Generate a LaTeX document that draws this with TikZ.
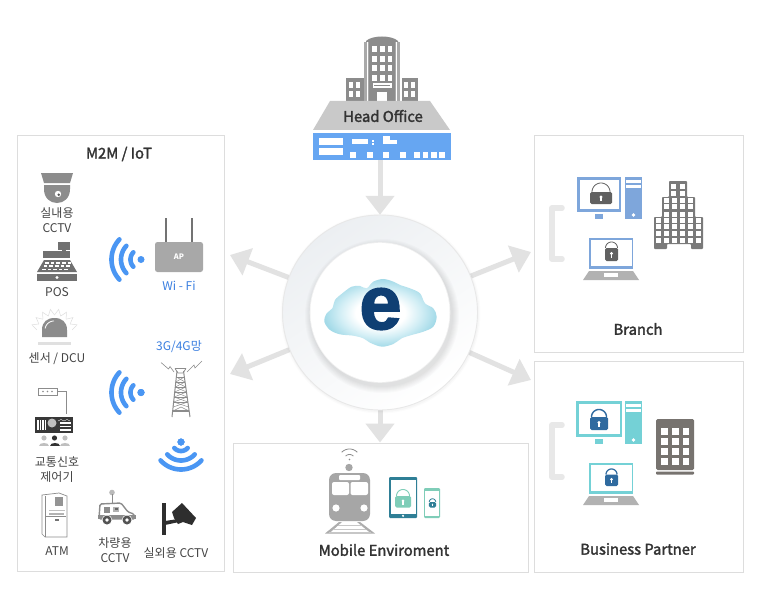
\documentclass[tikz,border=0pt]{standalone}
\usepackage{fontspec}
\setmainfont{Noto Sans CJK KR}
\newfontfamily\ttlfont[FakeBold=2]{Noto Sans CJK KR}
\newfontfamily\efont[BoldFeatures={FakeBold=2}]{Liberation Sans}
\usetikzlibrary{arrows.meta,calc}
\definecolor{panelb}{HTML}{DDDDDD}
\definecolor{arrowg}{HTML}{E2E2E2}
\definecolor{wifiblue}{HTML}{4A96F3}
\definecolor{txtblue}{HTML}{3B7FE0}
\definecolor{hoblue}{HTML}{66A6F2}
\definecolor{txt}{HTML}{333333}
\definecolor{lab}{HTML}{444444}
\definecolor{ico}{HTML}{8C8C8C}
\definecolor{bluem}{HTML}{7EA6DB}
\definecolor{cyanm}{HTML}{74D1D6}
\definecolor{navy}{HTML}{2F6A9F}
\definecolor{teal}{HTML}{2F7F96}
\definecolor{mint}{HTML}{7FCDB8}
\definecolor{bldg}{HTML}{7A7A7A}
\definecolor{bldgb}{HTML}{77736F}
\definecolor{cloudA}{HTML}{D2EEF5}
\definecolor{cloudB}{HTML}{A3DAE8}
\definecolor{ringt}{HTML}{ECEFF2}
\definecolor{edark}{HTML}{0F3F73}
\pgfdeclareradialshading{cloudsh}{\pgfpointorigin}{color(0bp)=(white); color(11bp)=(white); color(18bp)=(cloudA); color(25bp)=(cloudB); color(50bp)=(cloudB)}
\tikzset{
  panel/.style={draw=panelb,line width=1pt,fill=white,inner sep=0pt,rectangle},
  flow/.style={draw=arrowg,line width=5pt,-{Triangle[length=19pt,width=28pt]}},
  title/.style={font=\ttlfont\fontsize{14.8}{17}\selectfont,text=txt,inner sep=0pt},
  label/.style={font=\fontsize{12}{14}\selectfont,text=lab,inner sep=0pt},
  bluelabel/.style={font=\fontsize{12}{14}\selectfont,text=txtblue,inner sep=0pt},
  wifi/.style={draw=wifiblue,line width=4.6pt,line cap=round},
  tw/.style={draw=ico,line width=.7pt},
  hubring/.style={circle,inner sep=0pt,minimum size=195pt},
  hubcore/.style={circle,inner sep=0pt,minimum size=139pt,fill=white}
}
% arc centred at cx,cy in picture coordinates (y down)
\newcommand{\parc}[6][]{\draw[#1] plot[domain=#5:#6,samples=24] ({#2+#3*cos(\x)},{#4+#3*sin(\x)});}
% lock: cx, body top, half width, body height, shackle radius, colour, shackle width
\newcommand{\padlock}[7]{%
  \fill[#6,rounded corners=1.5pt] (#1-#3,#2) rectangle (#1+#3,#2+#4);
  \parc[draw=#6,line width=#7]{#1}{#5}{#2}{180}{360}
  \fill[white] (#1,#2+#4*.42) circle[radius=#4*.13];
  \fill[white] (#1-#4*.05,#2+#4*.42) rectangle (#1+#4*.05,#2+#4*.75);
}
% desktop: x0,y0,x1,y1 monitor; tower x0,x1,y1; colour
\newcommand{\desktop}[8]{%
  \fill[#8] (#1,#2) rectangle (#3,#4);
  \fill[white] (#1+2.5,#2+2.5) rectangle (#3-2.5,#4-3);
  \fill[#8] ({(#1+#3)/2-4},#4+2) rectangle ({(#1+#3)/2+4},#7);
  \fill[#8] (#5,#2) rectangle (#6,#7);
  \fill[white] (#5+1,#2+3) rectangle (#6-1,#2+6);
  \fill[white] (#5+1,#2+7.5) rectangle (#6-1,#2+11);
  \fill[white] ({(#5+#6)/2},#7-4) circle[radius=1.9];
}
% laptop: x0,y0,x1,y1, colour
\newcommand{\laptop}[5]{%
  \fill[#5] (#1,#2) rectangle (#3,#4);
  \fill[white] (#1+1.5,#2+1.5) rectangle (#3-1.5,#4-3);
  \fill[black!30] (#1,#4+2) -- (#3,#4+2) -- (#3+6,#4+11) -- (#1-6,#4+11) -- cycle;
  \fill[white] ({(#1+#3)/2-7},#4+4) rectangle ({(#1+#3)/2+7},#4+8);
}
\newcommand{\bracket}[2]{\draw[draw=black!9,line width=5.5pt,line cap=round,line join=round] (562,#1) -- (552,#1) -- (552,#2) -- (562,#2);}
\begin{document}
\begin{tikzpicture}[x=1pt,y=-1pt]
\useasboundingbox (0,0) rectangle (764,594);
\fill[white] (0,0) rectangle (764,594);

% panels
\node[panel,minimum width=207pt,minimum height=435pt] (m2m) at (120.5,353.5) {};
\node[panel,minimum width=209pt,minimum height=216pt] (branch) at (638.5,244) {};
\node[panel,minimum width=209pt,minimum height=211pt] (partner) at (638.5,466.5) {};
\node[panel,minimum width=295pt,minimum height=129pt] (mobile) at (380.5,507.5) {};

% head office
\fill[ico] (366,41) .. controls (372,35) and (392,35) .. (398,41) -- (398,42) -- (366,42) -- cycle;
\fill[ico!75] (364,42) rectangle (400,102);
\fill[white] (367,42) rectangle (368,101);
\fill[white] (396,42) rectangle (397,101);
\fill[ico] (369,42) rectangle (395,101);
\foreach \yy in {46,56,65.5,75}\foreach \xx in {372,380,387.5}\fill[white] (\xx,\yy) rectangle +(4.6,5.6);
\fill[white] (372.5,83) rectangle (391.5,88);
\fill[ico] (374,85) rectangle (390,86);
\fill[white] (377,92) rectangle (387,102);
\fill[ico] (346,78) rectangle (364,102);
\fill[ico] (402,78) rectangle (418,102);
\foreach \yy in {82,91}\foreach \xx in {349,356}\fill[white] (\xx,\yy) rectangle +(4,6);
\foreach \yy in {82,91}\foreach \xx in {404,411}\fill[white] (\xx,\yy) rectangle +(4,6);
\fill[black!21] (330,101) -- (430,101) -- (450,130) -- (313,130) -- cycle;
\node[title] (hotext) at (383,116) {Head Office};
\node[rectangle,fill=hoblue,inner sep=0pt,minimum width=138pt,minimum height=27pt] (ho) at (382,146.5) {};
\fill[white] (319,138) rectangle (343,145);
\fill[white] (319,148) rectangle (343,155);
\fill[white] (352,139) rectangle (368,144);
\fill[white] (372,140) rectangle (374,142);\fill[white] (372,143) rectangle (374,145);
\fill[white] (383,136) rectangle (390,144);\fill[white] (390,140) rectangle (397,144);
\foreach \xx in {350,367,383,400,414,422.5,431,439}\fill[white] (\xx,152) rectangle +(5.5,5.5);

% connectors
\node[hubring] (hub) at (380,312.5) {};
\coordinate (tl) at (230,255);
\coordinate (tr) at (531,252);
\coordinate (bl) at (230,374);
\coordinate (br) at (531,380);
\draw[flow] (hub.north |- ho.south) -- (hub.north);
\draw[flow] (hub.south) -- (hub.south |- mobile.north);
\draw[flow] (hub) -- (tl);
\draw[flow] (hub) -- (tr);
\draw[flow] (hub) -- (bl);
\draw[flow] (hub) -- (br);

% hub
\foreach \rr in {100,99,98.5}\fill[black,opacity=.012] (380.5,313.5) circle[radius=\rr];
\node[hubring,draw=black!9,line width=.9pt,top color=ringt,bottom color=white,shading angle=35] (hubr) at (hub) {};
\foreach \rr in {77,76,75,74,73,72,71}\fill[black,opacity=.016] (382,316) circle[radius=\rr];
\fill[black!5] (380,312.5) circle[radius=70.3];
\node[hubcore] (hubin) at (hub) {};

% cloud
\begin{scope}[x=.33333pt,y=-.33333pt,shift={(225pt,-200pt)}]
\shade[shading=cloudsh] plot[smooth cycle,tension=.55] coordinates {(298,365)(305,340)(322,325)(330,300)(352,280)(380,260)(405,258)(425,265)(445,245)(475,237)(505,245)(525,255)(555,265)(585,280)(600,310)(625,325)(635,350)(625,380)(595,395)(560,405)(530,415)(505,432)(470,440)(435,428)(415,415)(385,407)(345,403)(315,390)};
\end{scope}
\node[inner sep=0pt,font=\efont\bfseries\fontsize{76}{76}\selectfont,text=edark] (e) at (380.5,309) {e};

% M2M
\node[title] (m2mt) at (119,154) {M2M / IoT};
% dome camera
\fill[ico] (41,173) -- (73,173) -- (70,183) -- (44,183) -- cycle;
\fill[ico] (44,185) -- (70,185) -- (70,189) .. controls (70,198) and (64,203) .. (57,203) .. controls (50,203) and (44,198) .. (44,189) -- cycle;
\fill[white] (58,194) circle[radius=3.2];
\fill[ico!60!black] (58.7,194.7) circle[radius=1.4];
\node[label] (l1) at (57,213) {실내용};
\node[label] (l2) at (57,228) {CCTV};
% POS
\fill[ico!80!black] (58,242) rectangle (70,250);
\fill[ico!80!black] (62,250) rectangle (66,252);
\fill[ico!80!black] (43,251) rectangle (70,258);
\fill[ico!80!black] (44,260) -- (70,260) -- (77,272) -- (37,272) -- cycle;
\foreach \yy in {262,265,268.5}\foreach \xx in {0,1,2,3,4}\fill[white] ({57-12+\xx*5.6-(\yy-262)*.5+.2},\yy) rectangle +(3.6,1.6);
\fill[ico!80!black] (37,274) rectangle (77,281);
\fill[white] (57,277.5) circle[radius=1.7];
\node[label] (l3) at (57,292) {POS};
% sensor
\foreach \a in {190,210,...,330}
  \draw[black!13,line width=.5pt] ({54.5+18*cos(\a)},{333+18*sin(\a)}) -- ({54.5+24*cos(\a+10)},{333+24*sin(\a+10)}) -- ({54.5+18*cos(\a+20)},{333+18*sin(\a+20)});
\fill[ico] (42,337) -- (42,330) .. controls (42,322) and (47,318) .. (54.5,318) .. controls (62,318) and (67,322) .. (67,330) -- (67,337) -- cycle;
\fill[black!12] (38,342) rectangle (71,345);
\parc[draw=white,line width=.8pt]{54}{9}{330}{190}{270}
\node[label] (l4) at (57,359) {센서 / DCU};
% traffic
\draw[ico,fill=white,line width=.8pt] (38.5,388) rectangle (57,395);
\foreach \xx in {43,47.5,52}\fill[ico] (\xx,391.5) circle[radius=.8];
\draw[ico,line width=.8pt] (57,391.5) -- (66,391.5) -- (66,414);
\fill[black!78] (35,417) rectangle (73,433);
\foreach \xx in {37,39.5,42,44.5}\fill[white] (\xx,419.5) rectangle +(1.5,10);
\fill[black!25] (52,423) circle[radius=4.5];
\foreach \yy in {422,425.5,429}\fill[white] (60,\yy) rectangle (71,\yy+1.5);
\draw[white,line width=.4pt] (58,421) -- (61,419.5) -- (64,421) -- (67,419.5) -- (70,421);
\foreach \xx/\cc in {44/black!25,54.5/black!80,65/black!25}{
  \fill[\cc] (\xx,438) circle[radius=2.6];
  \fill[\cc] (\xx-5,446) .. controls (\xx-5,442) and (\xx+5,442) .. (\xx+5,446) -- cycle;
}
\node[label] (l5) at (57,462) {교통신호};
\node[label] (l6) at (57,477) {제어기};
% ATM
\draw[black!45,fill=white,line width=.7pt] (42,495) -- (59,493) -- (67,496) -- (67,537) -- (45,537) -- (42,534) -- cycle;
\draw[black!45,line width=.6pt] (45,496) -- (45,537);
\fill[black!42] (55,497) -- (63,497) -- (63,506) -- (55,506) -- cycle;
\fill[black!25] (49,510) rectangle (65,511);
\fill[black!30] (49,513) rectangle (64,515);
\draw[black!45,line width=.6pt] (46,516) -- (66,516);
\fill[black!55] (55,519) rectangle (59,521);
\node[label] (l7) at (57,551) {ATM};
% car
\fill[ico!60] (112,492.5) circle[radius=2.8];
\draw[ico,line width=.9pt] (112,494) -- (112,504);
\draw[ico,fill=white,line width=1.4pt,rounded corners=1.5pt] (99,519) -- (100,504) -- (121,503) -- (128,512) -- (134,514) -- (135,519) -- cycle;
\fill[ico] (98,515) rectangle (136,519);
\fill[ico] (104,507) rectangle (110,513);
\fill[black!30] (113,507) rectangle (119,512);
\fill[black!60] (115,508) rectangle (118,510);
\fill[white] (107,520) circle[radius=5.2];
\fill[ico!60!black] (107,520) circle[radius=4.5];
\fill[white] (107,520) circle[radius=1.8];
\fill[white] (127,520) circle[radius=5.2];
\fill[ico!60!black] (127,520) circle[radius=4.5];
\fill[white] (127,520) circle[radius=1.8];
\node[label] (l8) at (115,543) {차량용};
\node[label] (l9) at (115,558) {CCTV};
% outdoor camera
\fill[black!82] (162,503) rectangle (165.5,535);
\fill[black!82] (165,521) -- (178,519) -- (179,522) -- (165,525) -- cycle;
\fill[black!82] (172,512) -- (182,503) -- (196,518) -- (192,525) -- (183,522) -- (178,524) -- (174,518) -- cycle;
\node[label] (l10) at (176,553) {실외용 CCTV};
% wifi symbols
\fill[wifiblue] (141,259.5) circle[radius=3.5];
\foreach \rr in {10.5,20,29.5}\parc[wifi]{141}{\rr}{259.5}{137}{223}
\fill[wifiblue] (141,392.5) circle[radius=3.5];
\foreach \rr in {10.5,20,29.5}\parc[wifi]{141}{\rr}{392.5}{137}{223}
\fill[wifiblue] (181,442) circle[radius=3.5];
\foreach \rr in {9,18.5,27.5}\parc[wifi]{181}{\rr}{442}{42}{138}
% AP
\draw[black!55,line width=1.6pt] (166,218) -- (166,243);
\draw[black!55,line width=1.6pt] (192,218) -- (192,243);
\node[rectangle,rounded corners=2.5pt,fill=black!34,inner sep=0pt,minimum width=48pt,minimum height=30pt,text=white,font=\bfseries\fontsize{7.5}{9}\selectfont] (ap) at (179,257) {AP};
\node[bluelabel] (wf) at (179,286) {Wi - Fi};
\node[bluelabel] (g34) at (179,347) {3G/4G망};
% tower
\draw[tw,line width=1pt] (177,371) -- (172,417);
\draw[tw,line width=1pt] (183.5,371) -- (190,417);
\draw[tw,line width=1.2pt] (175,368.5) -- (186,368.5);
\draw[tw] (175,368.5) -- (178,373) -- (183,373) -- (186,368.5);
\foreach \yy in {377,382,387,392,397,402}{
  \draw[tw,line width=.6pt] ({177-(\yy-371)*.109},\yy) -- ({183.5+(\yy-371)*.141},\yy);
  \draw[tw,line width=.5pt] ({177-(\yy-371)*.109},\yy) -- ({183.5+(\yy+5-371)*.141},\yy+5);
  \draw[tw,line width=.5pt] ({183.5+(\yy-371)*.141},\yy) -- ({177-(\yy+5-371)*.109},\yy+5);
}
\draw[tw,line width=1.2pt] (173,411) -- (189,411);
\draw[tw,line width=.6pt] (173,411) -- (181,407) -- (189,411);
\draw[tw,line width=.6pt] (174,372) -- (170,366.5) -- (168.5,369) -- (161,362.5);
\draw[tw,line width=.6pt] (187,372) -- (194,365) -- (195,368) -- (202,361);

% Branch
\bracket{208}{259}
\desktop{577}{177}{621}{212}{625}{642}{219}{bluem}
\padlock{601}{192}{11}{12}{9}{black!62}{.8pt}
\laptop{589}{238}{633}{269}{bluem}
\padlock{611.5}{248}{6.5}{13}{6}{black!62}{.8pt}
\fill[bldg,rounded corners=.8pt] (654,249) -- (654,217) -- (662,217) -- (662,197) -- (669,197) -- (669,181) -- (687,181) -- (687,197) -- (695,197) -- (695,217) -- (703,217) -- (703,249) -- (691,249) -- (691,244) -- (667,244) -- (667,249) -- cycle;
\foreach \yy in {186.7,193.3}\foreach \xx in {673.7,682}\fill[white] (\xx-2.5,\yy-2.5) rectangle +(5,5);
\foreach \yy in {200,206.7,214}\foreach \xx in {666.3,674.3,682,690}\fill[white] (\xx-2.5,\yy-2.5) rectangle +(5,5);
\foreach \yy in {220,226.7,233.3,240.7}\foreach \xx in {658.7,666.3,674.3,682,690,698}\fill[white] (\xx-2.5,\yy-2.5) rectangle +(5,5);
\node[title] (bt) at (638,329) {Branch};

% Business Partner
\bracket{425}{477}
\desktop{576}{401}{622}{437}{625}{642}{444}{cyanm}
\padlock{599}{417}{9}{13}{7.5}{navy}{1.4pt}
\laptop{589}{463}{633}{494}{cyanm}
\padlock{611.5}{474.5}{6.5}{11.5}{5.5}{navy}{1.2pt}
\fill[bldgb,rounded corners=1.5pt] (656,419) rectangle (694,470);
\fill[bldgb,rounded corners=.8pt] (656,471.5) rectangle (694,474.5);
\foreach \yy in {431.7,441.7,451.7,461.7}\foreach \xx in {664.3,675.5,686}\fill[white] (\xx-3.3,\yy-3.3) rectangle +(6.6,6.6);
\node[title] (pt) at (638,549) {Business Partner};

% Mobile
\parc[draw=black!45,line width=.8pt]{349.5}{5.5}{460}{225}{315}
\parc[draw=black!45,line width=.8pt]{349.5}{11}{460}{225}{315}
\fill[black!45] (349.5,459.5) circle[radius=.8];
\fill[black!35] (349,467.5) circle[radius=3.7];
\fill[black!35,rounded corners=7pt] (329,473) rectangle (370,521);
\fill[white,rounded corners=1pt] (339,475) rectangle (360,480);
\fill[white,rounded corners=2pt] (332,482) rectangle (349,495);
\fill[white,rounded corners=2pt] (350.5,482) rectangle (368,495);
\fill[white] (336,508) circle[radius=3.6];
\fill[white] (364,508) circle[radius=3.6];
% rails
\fill[black!32] (339,522) -- (342,522) -- (329,533.5) -- (325,533.5) -- cycle;
\fill[black!32] (357,522) -- (360,522) -- (375,533.5) -- (371,533.5) -- cycle;
\fill[black!22] (338,524.5) rectangle (361,526);
\fill[black!22] (334,528.5) rectangle (366,530);
\fill[black!22] (329,532) rectangle (371,533.5);
% tablet
\fill[teal,rounded corners=1pt] (389,477) rectangle (417,518);
\fill[white] (390.5,480) rectangle (415.5,513.5);
\fill[white] (403,515.8) circle[radius=1.2];
\padlock{403}{496}{8}{11.5}{6.5}{mint}{.9pt}
% phone
\fill[mint,rounded corners=1.2pt] (424,488) rectangle (440,518);
\fill[white] (425.3,490.5) rectangle (438.7,515.5);
\padlock{432.5}{502}{3.6}{5.5}{3.2}{teal}{.8pt}
\node[title] (mt) at (384,550) {Mobile Enviroment};
\end{tikzpicture}
\end{document}
